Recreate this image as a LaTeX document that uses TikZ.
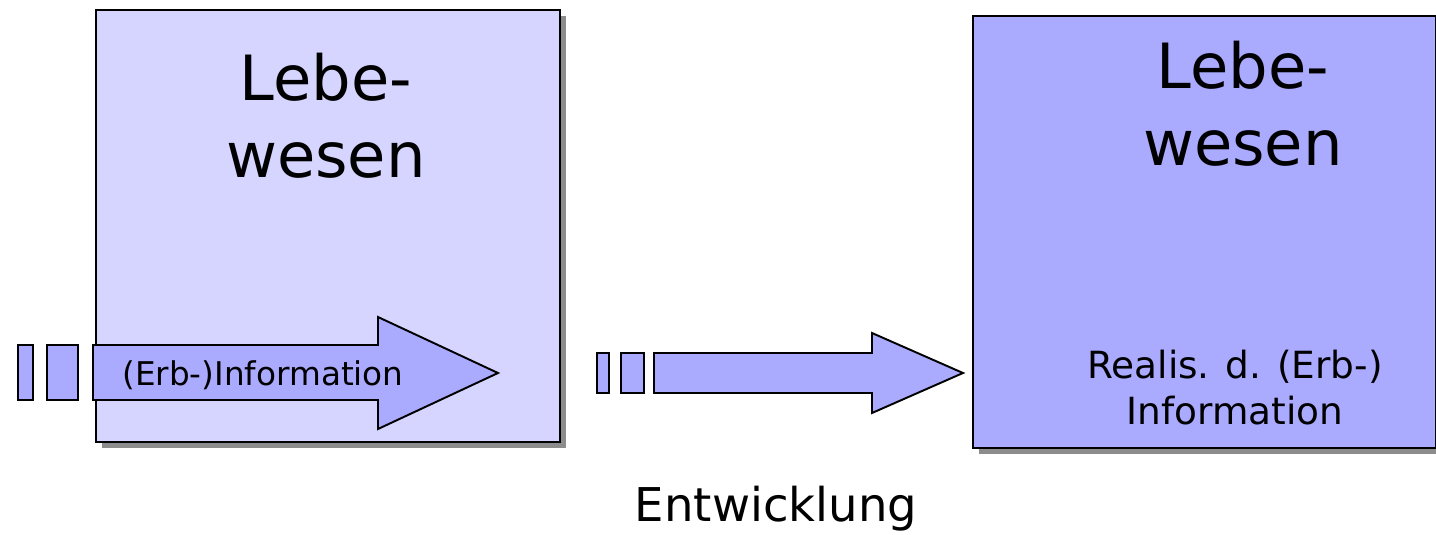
\documentclass[tikz,border=0pt]{standalone}
\usepackage{fontspec}
\setmainfont{DejaVu Sans}
\definecolor{paleblue}{HTML}{D5D5FF}
\definecolor{midblue}{HTML}{AAAAFF}
\definecolor{shadowgray}{HTML}{8C8C8C}
\begin{document}
\begin{tikzpicture}[x=0.02cm,y=-0.02cm,
  box/.style={draw=black,line width=1.1pt},
  shade/.style={fill=shadowgray,draw=none},
  blip/.style={draw=black,line width=1.1pt,fill=midblue,line join=miter},
  bigtext/.style={font=\fontsize{35.5}{40}\selectfont,anchor=base,inner sep=0pt},
  smalltext/.style={font=\fontsize{21.3}{25}\selectfont,anchor=base,inner sep=0pt}]
\useasboundingbox (0,0) rectangle (1436,534);

%draw left box
\fill[shade] (102,16) rectangle (566,448);
\draw[box,fill=paleblue] (96,10) rectangle (560,442);
\node[bigtext] (lebeA) at (326,100) {Lebe-};
\node[bigtext] (wesenA) at (326,177) {wesen};

%draw right box
\fill[shade] (979,22) rectangle (1442,454);
\draw[box,fill=midblue] (973,16) rectangle (1436,448);
\node[bigtext] (lebeB) at (1243,88) {Lebe-};
\node[bigtext] (wesenB) at (1243,165) {wesen};
\node[smalltext] (realis) at (1235,378) {Realis. d. (Erb-)};
\node[smalltext] (infoB) at (1235,424) {Information};

%draw arrow in left box
\draw[blip] (18,345) rectangle (33,400);
\draw[blip] (47,345) rectangle (78,400);
\draw[blip] (93,345) -- (378,345) -- (378,317) -- (498,373)
  -- (378,429) -- (378,400) -- (93,400) -- cycle;
\node[font=\fontsize{18.6}{22}\selectfont,anchor=base west,inner sep=0pt]
  (infoA) at (122,385) {(Erb-)Information};

%draw arrow between boxes
\draw[blip] (597,353) rectangle (609,393);
\draw[blip] (621,353) rectangle (644,393);
\draw[blip] (654,353) -- (872,353) -- (872,333) -- (963,373)
  -- (872,413) -- (872,393) -- (654,393) -- cycle;

\node[font=\fontsize{26.5}{30}\selectfont,anchor=base,inner sep=0pt]
  (entw) at (776,521) {Entwicklung};

\end{tikzpicture}
\end{document}
